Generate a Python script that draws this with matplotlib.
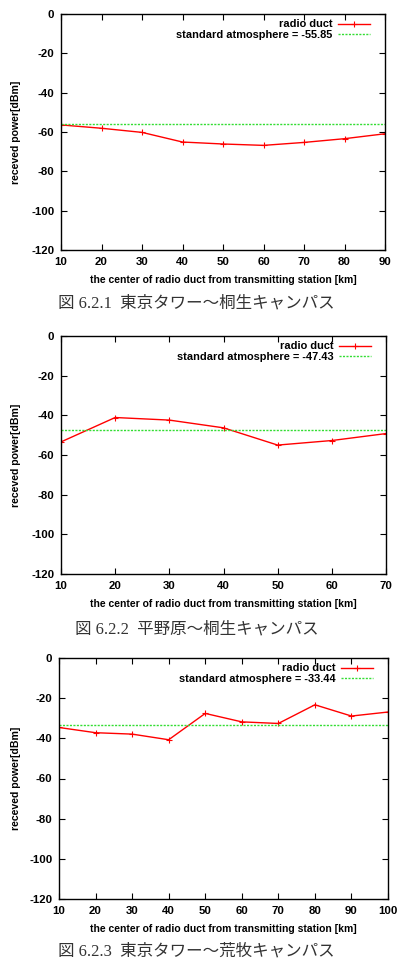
import matplotlib
matplotlib.use("Agg")
import matplotlib.pyplot as plt

plt.rcParams['font.family'] = ['Liberation Sans', 'DejaVu Sans']
plt.rcParams['font.weight'] = 'bold'
plt.rcParams['axes.unicode_minus'] = False

# chart 1: 東京タワー〜桐生キャンパス
x1 = [10, 20, 30, 40, 50, 60, 70, 80, 90]
y1 = [-56.4, -58.1, -60.2, -65.1, -66.1, -66.8, -65.3, -63.4, -60.9]
std1 = -55.85
cap1 = "図 6.2.1  東京タワー〜桐生キャンパス"

# chart 2: 平野原〜桐生キャンパス
x2 = [10, 20, 30, 40, 50, 60, 70]
y2 = [-53.4, -41.1, -42.4, -46.3, -55.0, -52.7, -49.2]
std2 = -47.43
cap2 = "図 6.2.2  平野原〜桐生キャンパス"

# chart 3: 東京タワー〜荒牧キャンパス
x3 = [10, 20, 30, 40, 50, 60, 70, 80, 90, 100]
y3 = [-34.6, -37.2, -37.9, -40.7, -27.6, -31.8, -32.6, -23.3, -28.9, -26.9]
std3 = -33.44
cap3 = "図 6.2.3  東京タワー〜荒牧キャンパス"

yticks = [0, -20, -40, -60, -80, -100, -120]
xlabel = "the center of radio duct from transmitting station [km]"
ylabel = "receved power[dBm]"

W, H = 398, 965
fig = plt.figure(figsize=(W / 100, H / 100), dpi=100)

# axes boxes in pixels: left, top, right, bottom
boxes = [(61, 14, 385, 250), (61, 336, 386, 574), (59, 658, 388, 899)]
charts = [(x1, y1, std1, cap1), (x2, y2, std2, cap2), (x3, y3, std3, cap3)]
cap_y = [304, 630, 952]
cap_x = [196, 197, 196]

for (l, t, r, b), (xs, ys, std, cap), cy, cx in zip(boxes, charts, cap_y, cap_x):
    ax = fig.add_axes([l / W, 1 - b / H, (r - l) / W, (b - t) / H])
    ax.plot(xs, ys, color='#ff0000', lw=1, marker='+', ms=4, mew=0.8,
            label='radio duct')
    ax.axhline(std, color='#33dd33', lw=1, ls=(0, (1.5, 1)),
               label='standard atmosphere = %.2f' % std)
    ax.set_xlim(xs[0], xs[-1])
    ax.set_ylim(-120, 0)
    ax.set_xticks(xs)
    ax.set_yticks(yticks)
    ax.tick_params(direction='in', top=True, right=True, length=4,
                   labelsize=8.2, width=0.8)
    ax.tick_params(axis='x', pad=5)
    ax.tick_params(axis='y', pad=4.8)
    for s in ax.spines.values():
        s.set_linewidth(1)
    ax.set_xlabel(xlabel, fontsize=7.5, fontweight='bold')
    ax.xaxis.set_label_coords(0.5, -(30) / (b - t))
    ax.xaxis.label.set_va('center')
    ax.set_ylabel(ylabel, fontsize=7.6, fontweight='bold')
    ax.yaxis.set_label_coords(-(l - 16) / (r - l), 0.5)
    ax.yaxis.label.set_va('center')
    leg = ax.legend(loc='upper right', frameon=False, markerfirst=False,
                    fontsize=7.9, numpoints=1, handlelength=2.9,
                    handletextpad=0.5, labelspacing=0.05, borderaxespad=0,
                    bbox_to_anchor=(1 - 11 / (r - l), 1 - 1 / (b - t)))
    fig.text(cx / W, 1 - cy / H, cap, ha='center', va='center',
             fontsize=11.9, color='#333333', fontweight='normal',
             family=['Liberation Serif', 'Noto Sans CJK JP'])

fig.savefig('out.png', dpi=100)
